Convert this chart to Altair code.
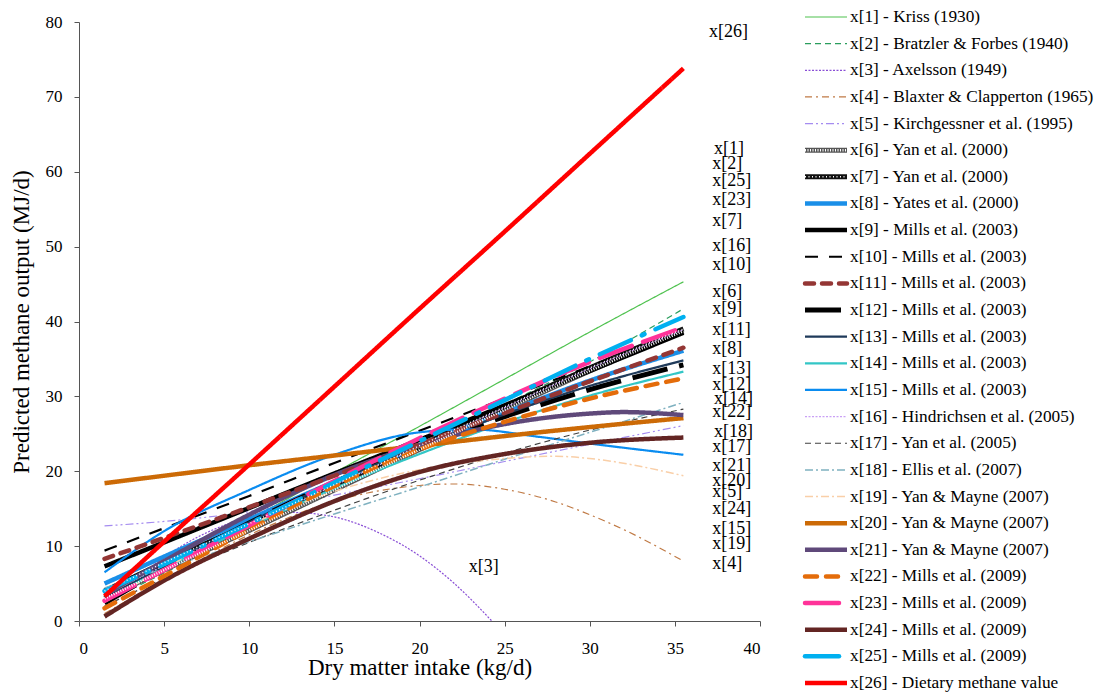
import altair as alt
import pandas as pd

# ---------------- data ----------------
x_std = [1.5, 5, 10, 15, 20, 25, 30, 35.5]

y01 = [2.9, 7.3, 13.5, 19.8, 26.0, 32.3, 38.6, 45.3]
y02 = [2.5, 6.4, 12.0, 17.6, 23.3, 28.9, 34.6, 41.7]
x03 = [1.5, 3, 5, 7.5, 10, 12.5, 15, 17.5, 20, 22, 24.25]
y03 = [1.65, 4.9, 8.5, 11.8, 13.8, 14.5, 13.9, 11.9, 8.7, 5.1, 0.0]
x04 = [1.5, 5, 10, 15, 20, 22, 25, 28, 30, 32, 35.5]
y04 = [1.0, 5.5, 11.5, 16.0, 18.1, 18.3, 17.6, 15.9, 14.2, 12.2, 8.0]
y05 = [12.7, 13.3, 14.6, 16.8, 19.0, 21.3, 23.6, 26.1]
y06 = [3.0, 6.8, 12.1, 17.5, 22.9, 28.2, 33.4, 38.7]
y07 = [4.0, 7.8, 13.0, 18.2, 23.4, 28.6, 33.8, 39.0]
y08 = [5.0, 8.6, 13.6, 18.6, 23.3, 27.8, 32.1, 36.1]
y09 = [7.3, 10.5, 15.1, 19.7, 24.2, 28.8, 33.4, 38.5]
y10 = [9.4, 12.4, 16.7, 21.1, 25.4, 29.7, 34.0, 38.8]
y11 = [8.3, 11.1, 15.2, 19.4, 23.6, 27.8, 32.0, 36.5]
y12 = [2.4, 7.0, 13.1, 18.5, 23.2, 27.3, 30.9, 34.2]
y13 = [3.0, 7.4, 13.2, 18.5, 23.3, 27.6, 31.4, 34.8]
y14 = [2.8, 7.0, 12.6, 17.7, 22.3, 26.5, 30.1, 33.3]
x15 = [1.5, 5, 10, 15, 20, 23, 27, 30, 35.5]
y15 = [6.5, 12.0, 17.5, 22.2, 25.2, 25.6, 24.6, 23.7, 22.2]
y16 = [3.5, 7.4, 12.8, 18.1, 23.3, 28.5, 33.7, 38.9]
y17 = [2.0, 5.7, 10.5, 14.8, 18.8, 22.4, 25.5, 28.3]
y18 = [4.4, 7.0, 10.6, 14.3, 17.9, 21.6, 25.2, 29.2]
x19 = [1.5, 5, 10, 15, 20, 25, 28, 30, 35.5]
y19 = [2.5, 7.0, 12.8, 17.3, 20.2, 21.7, 22.0, 21.7, 19.4]
y20 = [18.4, 19.4, 20.8, 22.1, 23.4, 24.7, 25.9, 27.1]
x21 = [1.5, 5, 10, 15, 20, 25, 30, 32, 35.5]
y21 = [3.5, 8.0, 14.2, 19.5, 23.5, 26.3, 27.7, 27.9, 27.5]
y22 = [1.7, 6.0, 12.2, 18.0, 22.9, 26.6, 29.7, 32.4]
y23 = [2.7, 6.8, 12.8, 18.7, 24.4, 29.7, 34.6, 39.2]
y24 = [0.6, 5.4, 11.0, 16.0, 19.9, 22.3, 23.8, 24.5]
y25 = [4.0, 7.6, 13.0, 18.5, 24.0, 29.5, 35.0, 40.6]
y26 = [3.3, 10.6, 20.9, 31.3, 41.7, 52.0, 62.4, 73.8]

names = [
    "Kriss (1930)", "Bratzler & Forbes (1940)", "Axelsson (1949)",
    "Blaxter & Clapperton (1965)", "Kirchgessner et al. (1995)",
    "Yan et al. (2000)", "Yan et al. (2000)", "Yates et al. (2000)",
    "Mills et al. (2003)", "Mills et al. (2003)", "Mills et al. (2003)",
    "Mills et al. (2003)", "Mills et al. (2003)", "Mills et al. (2003)",
    "Mills et al. (2003)", "Hindrichsen et al. (2005)", "Yan et al. (2005)",
    "Ellis et al. (2007)", "Yan & Mayne (2007)", "Yan & Mayne (2007)",
    "Yan & Mayne (2007)", "Mills et al. (2009)", "Mills et al. (2009)",
    "Mills et al. (2009)", "Mills et al. (2009)", "Dietary methane value",
]

# end-of-line labels inside the plot
label_ids = [26, 1, 2, 25, 23, 7, 16, 10, 6, 9, 11, 8, 13, 12, 14, 22, 18, 17,
             21, 20, 5, 24, 15, 19, 4, 3]
label_x = [37.0, 37.3, 37.2, 37.2, 37.2, 37.2, 37.2, 37.2, 37.2, 37.2, 37.2,
           37.2, 37.2, 37.2, 37.3, 37.2, 37.3, 37.2, 37.2, 37.2, 37.2, 37.2,
           37.2, 37.2, 37.2, 22.9]
label_y = [78.6, 63.1, 61.1, 58.7, 56.2, 53.4, 50.1, 47.5, 44.0, 41.7, 38.8,
           36.3, 33.6, 31.5, 29.7, 27.9, 25.2, 23.2, 20.7, 18.7, 17.2, 14.9,
           12.3, 10.3, 7.6, 7.2]

# ---------------- styles ----------------
colors = ["#4fc24f", "#2a9d5c", "#8a4fd6", "#c07a45", "#a58cf0",
          "#555555", "#111111", "#1a8fe8", "#000000", "#000000",
          "#943634", "#000000", "#1f3a5a", "#33c6c6", "#0a8cf0",
          "#c9a0f5", "#404040", "#7fb1c0", "#f9cfa8", "#cc6a06",
          "#5f497a", "#e46c0a", "#ff3399", "#632523", "#00b0f0", "#ff0000"]
widths = [1.2, 1.2, 1.2, 1.2, 1.2, 5, 5, 4.5, 4.5, 2.2,
          4.5, 5, 2.2, 2.2, 2.2, 1.2, 1.2, 1.5, 1.5, 4.5,
          4.5, 4.5, 4.5, 4.5, 4.5, 4.5]
dashes = [[1, 0], [6, 4], [2, 1.5], [7, 4, 2, 4], [8, 3, 2, 3, 2, 3],
          [1, 0], [1, 0], [1, 0], [1, 0], [13, 11],
          [9, 8], [36, 12], [1, 0], [1, 0], [1, 0],
          [2, 1.5], [6, 4], [8, 3, 2, 3], [8, 3, 2, 3], [1, 0],
          [1, 0], [12, 9], [34, 12], [1, 0], [34, 12, 3, 12], [1, 0]]
round_caps = [11, 22, 23, 25]

series_x = {3: x03, 4: x04, 15: x15, 19: x19, 21: x21}
series_y = [y01, y02, y03, y04, y05, y06, y07, y08, y09, y10, y11, y12, y13,
            y14, y15, y16, y17, y18, y19, y20, y21, y22, y23, y24, y25, y26]

rows = []
for i, ys in enumerate(series_y, start=1):
    xs = series_x.get(i, x_std)
    for xv, yv in zip(xs, ys):
        rows.append({"sid": f"{i:02d}", "n": i, "x": xv, "y": yv,
                     "color": colors[i - 1], "width": widths[i - 1],
                     "dash": dashes[i - 1]})
df = pd.DataFrame(rows)

FONT = "Liberation Serif"

xs_scale = alt.Scale(domain=[0, 40], nice=False)
ys_scale = alt.Scale(domain=[0, 80], nice=False)

base = alt.Chart(df).encode(
    x=alt.X("x:Q", scale=xs_scale,
            axis=alt.Axis(values=list(range(0, 41, 5)), title="Dry matter intake (kg/d)",
                          grid=False, tickSize=5, labelPadding=14, titlePadding=0,
                          domainColor="#555555", tickColor="#555555",
                          labelFont=FONT, labelFontSize=17, labelColor="#000000",
                          titleFont=FONT, titleFontSize=23, titleFontWeight="normal",
                          titleColor="#000000")),
    y=alt.Y("y:Q", scale=ys_scale,
            axis=alt.Axis(values=list(range(0, 81, 10)), title="Predicted methane output (MJ/d)",
                          grid=False, tickSize=5, labelPadding=12, titlePadding=12,
                          domainColor="#555555", tickColor="#555555",
                          labelFont=FONT, labelFontSize=17, labelColor="#000000",
                          titleFont=FONT, titleFontSize=23, titleFontWeight="normal",
                          titleColor="#000000")),
    detail="sid:N",
    color=alt.Color("color:N", scale=None),
    strokeWidth=alt.StrokeWidth("width:Q", scale=None),
    strokeDash=alt.StrokeDash("dash:N", scale=None),
)

lines_butt = base.mark_line(interpolate="monotone", strokeCap="butt").transform_filter(
    alt.FieldOneOfPredicate(field="n", oneOf=[i for i in range(1, 26) if i not in round_caps]))
lines_round = base.mark_line(interpolate="monotone", strokeCap="round").transform_filter(
    alt.FieldOneOfPredicate(field="n", oneOf=round_caps))
hatch6 = base.mark_line(interpolate="monotone").encode(
    color=alt.value("#ffffff"), strokeWidth=alt.value(2.5), strokeDash=alt.value([1, 1.5])
).transform_filter(alt.datum.n == 6)
hatch7 = base.mark_line(interpolate="monotone").encode(
    color=alt.value("#ffffff"), strokeWidth=alt.value(1.5), strokeDash=alt.value([1, 2.5])
).transform_filter(alt.datum.n == 7)
red = base.mark_line(interpolate="monotone", strokeCap="butt").transform_filter(alt.datum.n == 26)

lab_df = pd.DataFrame({"x": label_x, "y": label_y,
                       "t": [f"x[{i}]" for i in label_ids]})
labels = alt.Chart(lab_df).mark_text(align="left", baseline="middle", font=FONT,
                                     fontSize=18, color="#000000").encode(
    x=alt.X("x:Q", scale=xs_scale), y=alt.Y("y:Q", scale=ys_scale), text="t:N")

main = alt.layer(lines_butt, lines_round, hatch6, hatch7, red, labels).properties(
    width=681, height=599)

leg_df = pd.DataFrame({
    "sid": [f"{i:02d}" for i in range(1, 27)],
    "label": [f"x[{i}] - {names[i - 1]}" for i in range(1, 27)],
    "color": colors, "width": widths, "dash": dashes,
    "n": list(range(1, 27)),
})
leg_base = alt.Chart(leg_df).encode(
    y=alt.Y("sid:N", axis=None,
            scale=alt.Scale(type="point", padding=0, range=[-5, 661])))
leg_enc = dict(x=alt.value(0), x2=alt.value("width"),
               color=alt.Color("color:N", scale=None),
               strokeWidth=alt.StrokeWidth("width:Q", scale=None),
               strokeDash=alt.StrokeDash("dash:N", scale=None))
leg_butt = leg_base.mark_rule(strokeCap="butt").encode(**leg_enc).transform_filter(
    alt.FieldOneOfPredicate(field="n", oneOf=[i for i in range(1, 27) if i not in round_caps]))
leg_round = leg_base.mark_rule(strokeCap="round").encode(**leg_enc).transform_filter(
    alt.FieldOneOfPredicate(field="n", oneOf=round_caps))
leg_h6 = leg_base.mark_rule().encode(x=alt.value(0), x2=alt.value("width"),
                                     color=alt.value("#ffffff"), strokeWidth=alt.value(2.5),
                                     strokeDash=alt.value([1, 1.5])).transform_filter(alt.datum.n == 6)
leg_h7 = leg_base.mark_rule().encode(x=alt.value(0), x2=alt.value("width"),
                                     color=alt.value("#ffffff"), strokeWidth=alt.value(1.5),
                                     strokeDash=alt.value([1, 2.5])).transform_filter(alt.datum.n == 7)
leg_text = leg_base.mark_text(align="left", baseline="middle", dx=3, font=FONT,
                              fontSize=17.3, color="#000000").encode(
    x=alt.value("width"), text="label:N")
legend = alt.layer(leg_butt, leg_round, leg_h6, leg_h7, leg_text).properties(
    width=42, height=599)

chart = alt.hconcat(main, legend, spacing=41).properties(
    padding={"left": 2, "top": 0, "right": 0, "bottom": 0}
).configure_view(stroke=None)

chart.save("out.html", embed_options={"renderer": "svg", "actions": False})
